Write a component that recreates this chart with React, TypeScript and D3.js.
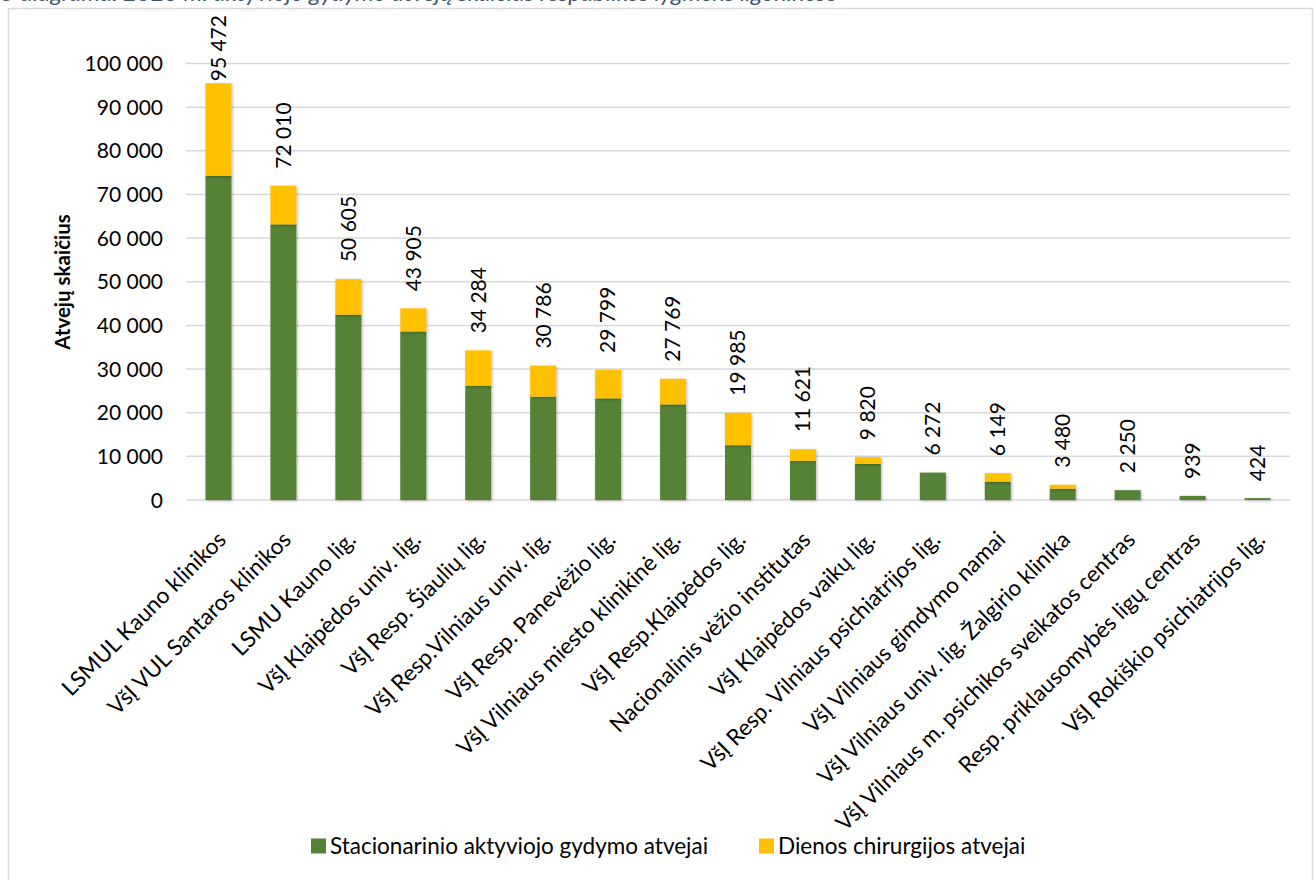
import * as d3 from 'd3';

const hospitals = [
  'LSMUL Kauno klinikos',
  'VšĮ VUL Santaros klinikos',
  'LSMU Kauno lig.',
  'VšĮ Klaipėdos univ. lig.',
  'VšĮ Resp. Šiaulių lig.',
  'VšĮ Resp.Vilniaus univ. lig.',
  'VšĮ Resp. Panevėžio lig.',
  'VšĮ Vilniaus miesto klinikinė lig.',
  'VšĮ Resp.Klaipėdos lig.',
  'Nacionalinis vėžio institutas',
  'VšĮ Klaipėdos vaikų lig.',
  'VšĮ Resp. Vilniaus psichiatrijos lig.',
  'VšĮ Vilniaus gimdymo namai',
  'VšĮ Vilniaus univ. lig. Žalgirio klinika',
  'VšĮ Vilniaus m. psichikos sveikatos centras',
  'Resp. priklausomybės ligų centras',
  'VšĮ Rokiškio psichiatrijos lig.',
];

// stacionarinio aktyviojo gydymo atvejai
const stationary = [
  74250, 63150, 42460, 38620, 26210, 23680, 23290, 21910, 12570, 8970, 8280,
  6272, 4210, 2600, 2250, 939, 424,
];

// dienos chirurgijos atvejai
const daySurgery = [
  21222, 8860, 8145, 5285, 8074, 7106, 6509, 5859, 7415, 2651, 1540, 0, 1939,
  880, 0, 0, 0,
];

const totals = [
  95472, 72010, 50605, 43905, 34284, 30786, 29799, 27769, 19985, 11621, 9820,
  6272, 6149, 3480, 2250, 939, 424,
];

const yTicks = [0, 10000, 20000, 30000, 40000, 50000, 60000, 70000, 80000, 90000, 100000];

const seriesNames = ['Stacionarinio aktyviojo gydymo atvejai', 'Dienos chirurgijos atvejai'];
const seriesColors = ['#548235', '#FFC000'];

const W = 1316;
const H = 880;
const FONT = 'Lato, "Noto Sans", sans-serif';
const FS = 21;

const fmt = d3
  .formatLocale({ decimal: ',', thousands: ' ', grouping: [3], currency: ['', ''] })
  .format(',d');

export default function App() {
  const x = d3.scaleBand<string>().domain(hospitals).range([186, 1290]).paddingInner(0.6).paddingOuter(0.3);
  const y = d3.scaleLinear().domain([0, 100000]).range([500, 63.5]);

  const rows = hospitals.map((h, i) => ({ h, s: stationary[i], d: daySurgery[i] }));
  const stacked = d3.stack<{ h: string; s: number; d: number }>().keys(['s', 'd'])(rows);

  return (
    <div style={{ position: 'absolute', left: 0, top: 0, background: '#fff' }}>
      <svg width={W} height={H} style={{ display: 'block', fontFamily: FONT }}>
        <defs>
          <filter id="shadow" x="-30%" y="-10%" width="160%" height="120%">
            <feDropShadow dx="1" dy="1" stdDeviation="1.5" floodColor="#000" floodOpacity="0.3" />
          </filter>
        </defs>
        <rect width={W} height={H} fill="#fff" />
        {/* caption, cut off at the top edge as in the source */}
        <text
          x={1}
          y={0.5}
          fontSize={22}
          fontStyle="italic"
          fill="#44546A"
          textLength={836}
          lengthAdjust="spacingAndGlyphs"
        >
          5 diagrama. 2023 m. aktyviojo gydymo atvejų skaičius respublikos lygmens ligoninėse
        </text>
        <rect x={8.5} y={8.5} width={1304} height={H} fill="none" stroke="#D9D9D9" strokeWidth={1.5} />

        {/* grid */}
        {yTicks.map((t) => (
          <g key={t}>
            <line x1={186} x2={1290} y1={y(t)} y2={y(t)} stroke="#D9D9D9" strokeWidth={1.5} />
            <text x={163} y={y(t)} dy="0.36em" textAnchor="end" fontSize={FS} fill="#000">
              {fmt(t)}
            </text>
          </g>
        ))}

        <text
          transform={`translate(63, 282) rotate(-90)`}
          textAnchor="middle"
          dy="0.35em"
          fontSize={20.5}
          fontWeight="bold"
          fill="#000"
        >
          Atvejų skaičius
        </text>

        {/* bars */}
        {stacked.map((layer, li) => (
          <g key={layer.key} fill={seriesColors[li]} filter="url(#shadow)">
            {layer.map((d, i) =>
              d[1] - d[0] > 0 ? (
                <rect
                  key={hospitals[i]}
                  x={x(hospitals[i])}
                  width={x.bandwidth()}
                  y={y(d[1])}
                  height={y(d[0]) - y(d[1])}
                />
              ) : null
            )}
          </g>
        ))}

        {/* value labels */}
        {totals.map((v, i) => {
          const label = fmt(v);
          const cx = (x(hospitals[i]) ?? 0) + x.bandwidth() / 2;
          const len = label.length * 0.55 * FS;
          const start = Math.max(y(v) - 17, 12 + len);
          return (
            <text
              key={hospitals[i]}
              transform={`translate(${cx}, ${start}) rotate(-90)`}
              dy="0.35em"
              fontSize={FS}
              fill="#000"
            >
              {label}
            </text>
          );
        })}

        {/* category labels */}
        {hospitals.map((h) => {
          const cx = (x(h) ?? 0) + x.bandwidth() / 2;
          return (
            <text
              key={h}
              transform={`translate(${cx + 9}, 541) rotate(-45)`}
              textAnchor="end"
              fontSize={22.5}
              fill="#000"
            >
              {h}
            </text>
          );
        })}

        {/* legend */}
        {seriesNames.map((n, i) => {
          const lx = [311, 759][i];
          return (
            <g key={n} transform={`translate(${lx}, 846)`}>
              <rect x={0} y={-7.5} width={15} height={15} fill={seriesColors[i]} />
              <text x={19} y={0} dy="0.35em" fontSize={22.5} fill="#000">
                {n}
              </text>
            </g>
          );
        })}
      </svg>
    </div>
  );
}
